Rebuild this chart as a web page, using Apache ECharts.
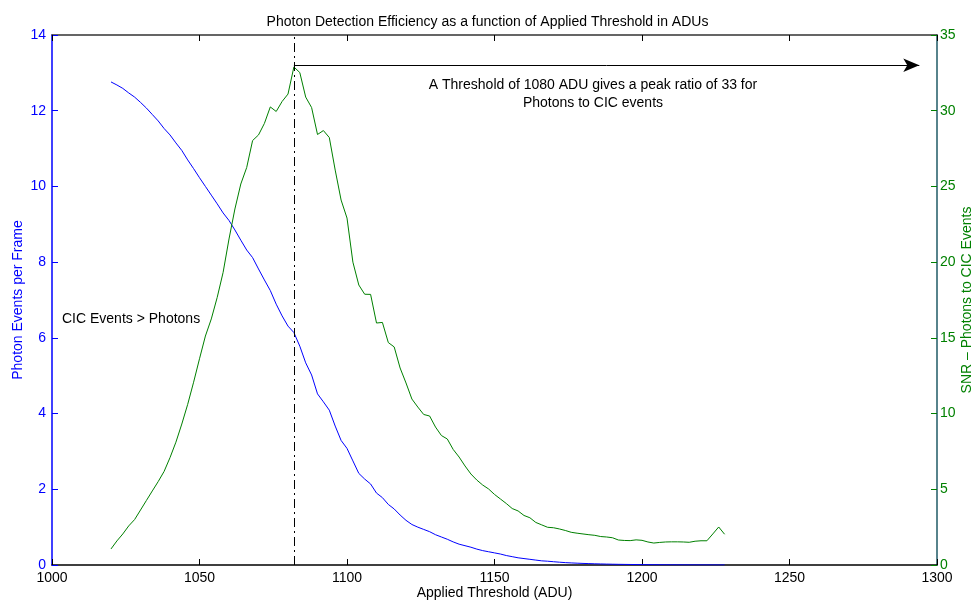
<!DOCTYPE html>
<html>
<head>
<meta charset="utf-8">
<script src="https://cdn.jsdelivr.net/npm/echarts@6/dist/echarts.min.js"></script>
<style>html,body{margin:0;padding:0;background:#fff}#c{width:975px;height:604px}</style>
</head>
<body>
<div id="c"></div>
<script>
// Applied threshold (ADU), every 2 ADU from 1020 to 1228
const thresholds = [];
for (let t = 1020; t <= 1228; t += 2) thresholds.push(t);

const photonEvents = [
12.76,12.68,12.59,12.47,12.36,12.22,12.07,11.90,11.73,11.53,
11.36,11.15,10.95,10.70,10.47,10.23,10.00,9.77,9.54,9.30,
9.10,8.85,8.58,8.32,8.12,7.82,7.53,7.25,6.89,6.58,
6.31,6.14,5.78,5.34,5.02,4.52,4.31,4.09,3.67,3.29,
3.08,2.75,2.42,2.27,2.14,1.90,1.78,1.60,1.48,1.32,
1.18,1.07,1.00,0.94,0.88,0.80,0.74,0.68,0.61,0.55,
0.51,0.47,0.42,0.38,0.35,0.32,0.29,0.25,0.22,0.19,
0.17,0.15,0.13,0.11,0.10,0.087,0.074,0.063,0.055,0.048,
0.042,0.037,0.032,0.028,0.024,0.021,0.018,0.016,0.014,0.012,
0.010,0.009,0.008,0.007,0.006,0.005,0.004,0.004,0.003,0.003,
0.002,0.002,0.002,0.001,0.001
];

const snr = [
1.06,1.59,2.05,2.58,3.00,3.63,4.26,4.89,5.51,6.18,
7.09,8.11,9.31,10.61,12.07,13.62,15.12,16.25,17.67,19.32,
21.53,23.51,25.16,26.25,28.03,28.40,29.16,30.25,29.95,30.61,
31.10,32.89,32.52,30.90,30.21,28.43,28.69,28.23,26.08,24.10,
22.91,20.00,18.49,17.88,17.87,15.98,16.02,14.69,14.40,13.01,
12.02,10.96,10.43,9.94,9.84,9.11,8.55,8.32,7.63,7.13,
6.54,6.01,5.61,5.28,5.02,4.66,4.36,4.06,3.73,3.57,
3.27,3.12,2.81,2.65,2.49,2.46,2.38,2.28,2.16,2.10,
2.05,2.00,1.96,1.88,1.85,1.80,1.65,1.62,1.61,1.66,
1.63,1.52,1.45,1.49,1.52,1.53,1.53,1.52,1.50,1.57,
1.60,1.60,2.05,2.51,2.03
];

const peakThreshold = 1082;
const peakRatio = 33;
const arrowEnd = 1294;

const titleText = 'Photon Detection Efficiency as a function of Applied Threshold in ADUs';
const xName = 'Applied Threshold (ADU)';
const leftName = 'Photon Events per Frame';
const rightName = 'SNR \u2013 Photons to CIC Events';
const noteLines = ['A Threshold of 1080 ADU gives a peak ratio of 33 for', 'Photons to CIC events'];
const note2 = 'CIC Events > Photons';

const FONT = '"Liberation Sans", Arial, Helvetica, sans-serif';
const FS = 14;
const BLUE = '#0000ff', GREEN = '#008000';

const chart = echarts.init(document.getElementById('c'));
chart.setOption({
  animation: false,
  backgroundColor: '#fff',
  textStyle: { fontFamily: FONT },
  title: {
    text: titleText, left: 'center', top: 10,
    textStyle: { fontFamily: FONT, fontSize: FS, fontWeight: 'normal', color: '#000' }
  },
  grid: { left: 52, right: 38, top: 35, bottom: 39, containLabel: false, outerBoundsMode: 'none' },
  xAxis: [{
    type: 'value', min: 1000, max: 1300, interval: 50, position: 'bottom',
    name: xName, nameLocation: 'middle', nameGap: 21, nameMoveOverlap: false,
    nameTextStyle: { fontFamily: FONT, fontSize: FS, color: '#000' },
    axisLine: { lineStyle: { color: '#000', width: 1.5 } },
    axisTick: { inside: true, length: 6, lineStyle: { color: '#000' } },
    axisLabel: { color: '#000', fontSize: FS, fontFamily: FONT, margin: 6, formatter: v => String(v) },
    splitLine: { show: false }
  }, {
    type: 'value', show: true, min: 1000, max: 1300, interval: 50, position: 'top',
    axisLine: { show: true, onZero: false, lineStyle: { color: '#333', width: 1.5 } },
    axisTick: { show: true, inside: true, length: 6, lineStyle: { color: '#000' } },
    axisLabel: { show: false }, splitLine: { show: false }
  }],
  yAxis: [{
    type: 'value', min: 0, max: 14, interval: 2, position: 'left',
    name: leftName, nameLocation: 'middle', nameGap: 27, nameMoveOverlap: false,
    nameTextStyle: { fontFamily: FONT, fontSize: FS, color: BLUE },
    axisLine: { show: true, lineStyle: { color: BLUE, width: 1.5 } },
    axisTick: { show: true, inside: true, length: 6, lineStyle: { color: BLUE } },
    axisLabel: { color: BLUE, fontSize: FS, fontFamily: FONT, margin: 6 },
    splitLine: { show: false }
  }, {
    type: 'value', min: 0, max: 35, interval: 5, position: 'right',
    name: rightName, nameLocation: 'middle', nameGap: 23, nameMoveOverlap: false,
    nameTextStyle: { fontFamily: FONT, fontSize: FS, color: GREEN },
    axisLine: { show: true, lineStyle: { color: '#1f5a66', width: 1.5 } },
    axisTick: { show: true, inside: true, length: 6, lineStyle: { color: GREEN } },
    axisLabel: { color: GREEN, fontSize: FS, fontFamily: FONT, margin: 3 },
    splitLine: { show: false }
  }],
  series: [{
    type: 'line', name: 'photons', xAxisIndex: 0, yAxisIndex: 0,
    data: thresholds.map((t, i) => [t, photonEvents[i]]),
    showSymbol: false, lineStyle: { color: BLUE, width: 1 }, itemStyle: { color: BLUE },
    markLine: {
      silent: true, symbol: ['none', 'none'], label: { show: false },
      lineStyle: { color: '#000', width: 1, type: [9, 4, 2, 4] },
      data: [{ xAxis: peakThreshold }]
    }
  }, {
    type: 'line', name: 'snr', xAxisIndex: 0, yAxisIndex: 1,
    data: thresholds.map((t, i) => [t, snr[i]]),
    showSymbol: false, lineStyle: { color: GREEN, width: 1 }, itemStyle: { color: GREEN },
    markLine: {
      silent: true, symbol: ['none', 'arrow'], symbolSize: [10, 16], label: { show: false },
      lineStyle: { color: '#000', width: 1, type: 'solid' },
      data: [[{ coord: [peakThreshold, peakRatio] }, { coord: [arrowEnd, peakRatio] }]]
    }
  }, {
    type: 'line', name: 'frame', xAxisIndex: 1, yAxisIndex: 0,
    data: [], silent: true
  }],
  graphic: [{
    type: 'text', left: 393, top: 76,
    style: { text: noteLines.join('\n'), width: 400, x: 200, textAlign: 'center',
      font: FS + 'px ' + FONT, fill: '#000', lineHeight: 18 }
  }, {
    type: 'text', left: 62, top: 312,
    style: { text: note2, font: FS + 'px ' + FONT, fill: '#000' }
  }]
});
</script>
</body>
</html>
